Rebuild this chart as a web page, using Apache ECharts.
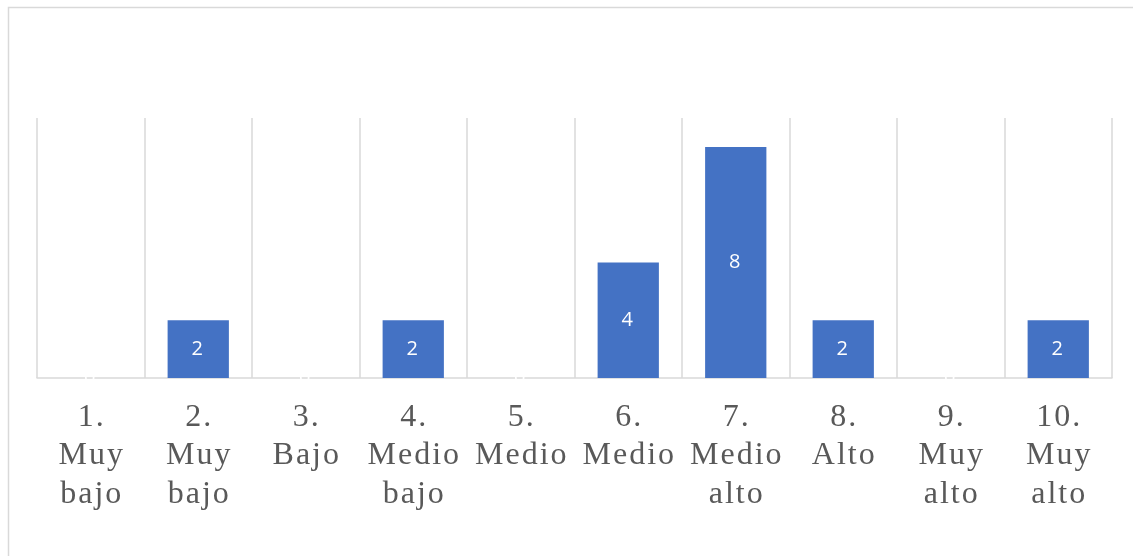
<!DOCTYPE html>
<html>
<head>
<meta charset="utf-8">
<script src="https://cdn.jsdelivr.net/npm/echarts@6/dist/echarts.min.js"></script>
<style>
html,body{margin:0;padding:0;background:#fff;}
#chart{width:1133px;height:556px;}
</style>
</head>
<body>
<div id="chart"></div>
<script>
const categories = ['1.\nMuy\nbajo', '2.\nMuy\nbajo', '3.\nBajo', '4.\nMedio\nbajo', '5.\nMedio', '6.\nMedio', '7.\nMedio\nalto', '8.\nAlto', '9.\nMuy\nalto', '10.\nMuy\nalto'];
const values = [0, 2, 0, 2, 0, 4, 8, 2, 0, 2];

// Letter spacing for the serif axis labels (canvas letterSpacing)
(function () {
  const LS = 2;
  const proto = CanvasRenderingContext2D.prototype;
  const origFill = proto.fillText;
  proto.fillText = function (text, x, y, maxW) {
    if (this.font && this.font.indexOf('Serif') >= 0 && 'letterSpacing' in this) {
      const prev = this.letterSpacing;
      this.letterSpacing = LS + 'px';
      const dx = this.textAlign === 'center' ? LS / 2 : 0;
      const r = maxW === undefined ? origFill.call(this, text, x + dx, y) : origFill.call(this, text, x + dx, y, maxW);
      this.letterSpacing = prev;
      return r;
    }
    return maxW === undefined ? origFill.call(this, text, x, y) : origFill.call(this, text, x, y, maxW);
  };
})();

const chart = echarts.init(document.getElementById('chart'), null, {renderer: 'canvas'});
chart.setOption({
  animation: false,
  backgroundColor: '#ffffff',
  graphic: [{
    type: 'rect',
    shape: {x: 8.5, y: 7.5, width: 1200, height: 700},
    style: {fill: 'none', stroke: '#d9d9d9', lineWidth: 1.5},
    silent: true
  }],
  grid: {left: 37, right: 21, top: 118, bottom: 178},
  xAxis: {
    type: 'category',
    data: categories,
    axisLine: {show: true, lineStyle: {color: '#d9d9d9', width: 1.5}},
    axisTick: {show: false},
    splitLine: {show: true, lineStyle: {color: '#d9d9d9', width: 1.5}},
    axisLabel: {
      interval: 0,
      color: '#595959',
      fontFamily: 'Liberation Serif',
      fontSize: 32,
      lineHeight: 38.5,
      margin: 20
    }
  },
  yAxis: {
    type: 'value',
    min: 0,
    max: 9,
    show: false,
    splitLine: {show: false}
  },
  series: [{
    type: 'bar',
    data: values,
    barCategoryGap: '43%',
    itemStyle: {color: '#4472C4'},
    label: {
      show: true,
      position: 'inside',
      color: '#ffffff',
      fontFamily: 'Open Sans',
      fontSize: 20
    }
  }]
});
</script>
</body>
</html>
